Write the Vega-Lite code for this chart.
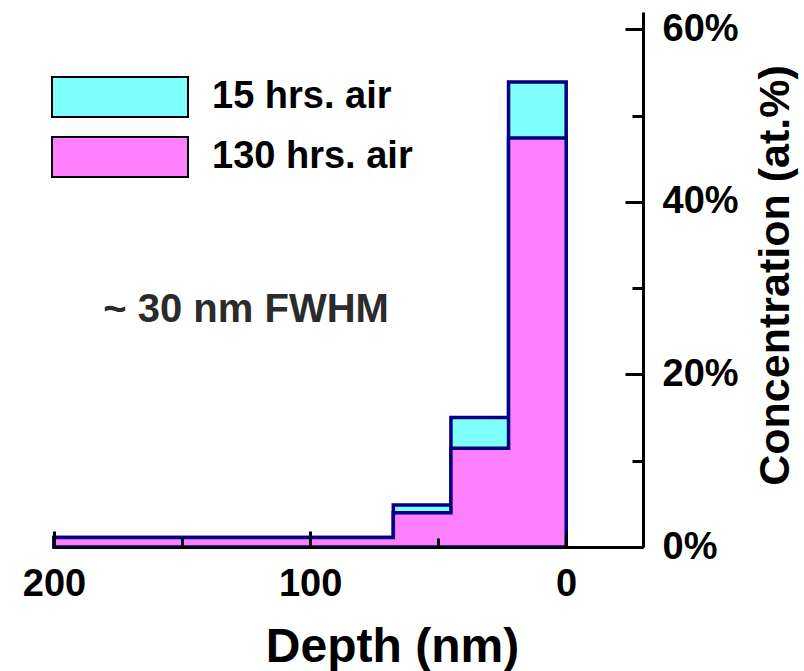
{
  "$schema": "https://vega.github.io/schema/vega-lite/v6.json",
  "width": 589,
  "height": 535,
  "autosize": "none",
  "padding": {"left": 54, "top": 12, "right": 161, "bottom": 124},
  "background": "white",
  "config": {"view": {"stroke": null}},
  "data": {
    "values": [
      {"series": "15 hrs. air", "depth": 0, "conc": 53.9},
      {"series": "15 hrs. air", "depth": 22.5, "conc": 15.0},
      {"series": "15 hrs. air", "depth": 45, "conc": 4.87},
      {"series": "15 hrs. air", "depth": 67.5, "conc": 1.1},
      {"series": "15 hrs. air", "depth": 200, "conc": 1.1},
      {"series": "130 hrs. air", "depth": 0, "conc": 47.4},
      {"series": "130 hrs. air", "depth": 22.5, "conc": 11.45},
      {"series": "130 hrs. air", "depth": 45, "conc": 3.97},
      {"series": "130 hrs. air", "depth": 67.5, "conc": 1.1},
      {"series": "130 hrs. air", "depth": 200, "conc": 1.1}
    ]
  },
  "resolve": {"axis": {"x": "independent", "y": "independent"}},
  "layer": [
    {
      "encoding": {
        "x": {
          "field": "depth",
          "type": "quantitative",
          "scale": {"domain": [-30, 200], "reverse": true, "nice": false, "zero": false},
          "axis": {
            "orient": "bottom",
            "values": [0, 100, 200],
            "format": "d",
            "tickSize": -16,
            "tickWidth": 3,
            "tickColor": "black",
            "domainColor": "black",
            "domainWidth": 3,
            "grid": false,
            "labelFont": "Liberation Sans",
            "labelFontWeight": "bold",
            "labelFontSize": 38,
            "labelColor": "black",
            "labelPadding": 34,
            "labelFlush": false,
            "labelOverlap": false,
            "title": "Depth (nm)",
            "titleFont": "Liberation Sans",
            "titleFontWeight": "bold",
            "titleFontSize": 48,
            "titleColor": "black",
            "titleAlign": "center",
            "titleBaseline": "alphabetic",
            "titleX": 338,
            "titleY": 114,
            "zindex": 1
          }
        },
        "y": {
          "field": "conc",
          "type": "quantitative",
          "scale": {"domain": [0, 62], "nice": false, "zero": false},
          "axis": {
            "orient": "right",
            "values": [0, 20, 40, 60],
            "labelExpr": "datum.value + '%'",
            "tickSize": -18,
            "tickWidth": 3,
            "tickColor": "black",
            "domainColor": "black",
            "domainWidth": 3,
            "grid": false,
            "labelFont": "Liberation Sans",
            "labelFontWeight": "bold",
            "labelFontSize": 38,
            "labelColor": "black",
            "labelAlign": "left",
            "labelBaseline": "middle",
            "labelPadding": 37,
            "labelFlush": false,
            "labelOverlap": false,
            "title": "Concentration (at.%)",
            "titleFont": "Liberation Sans",
            "titleFontWeight": "bold",
            "titleFontSize": 43,
            "titleColor": "black",
            "titleAngle": 270,
            "titleAlign": "center",
            "titleBaseline": "alphabetic",
            "titleX": 145,
            "titleY": 263,
            "zindex": 1
          }
        },
        "fill": {
          "field": "series",
          "type": "nominal",
          "scale": {"domain": ["15 hrs. air", "130 hrs. air"], "range": ["#80FFFF", "#FF80FF"]},
          "legend": {
            "orient": "none",
            "legendX": -3,
            "legendY": 63,
            "title": null,
            "symbolType": "M-1,-0.294H1V0.294H-1Z",
            "symbolSize": 18496,
            "symbolStrokeColor": "black",
            "symbolStrokeWidth": 2,
            "symbolOpacity": 1,
            "clipHeight": 44,
            "labelFont": "Liberation Sans",
            "labelFontWeight": "bold",
            "labelFontSize": 38,
            "labelColor": "black",
            "labelOffset": 23,
            "labelLimit": 0,
            "rowPadding": 16
          }
        }
      },
      "layer": [
        {
          "transform": [{"filter": "datum.series === '15 hrs. air'"}],
          "mark": {"type": "area", "interpolate": "step-before", "stroke": "#000080", "strokeWidth": 3.5, "fillOpacity": 1}
        },
        {
          "transform": [{"filter": "datum.series === '130 hrs. air'"}],
          "mark": {"type": "area", "interpolate": "step-before", "stroke": "#000080", "strokeWidth": 3.5, "fillOpacity": 1}
        }
      ]
    },
    {
      "data": {"values": [{"note": "~ 30 nm FWHM", "depth": 125, "conc": 26.1}]},
      "mark": {"type": "text", "align": "center", "baseline": "alphabetic", "font": "Liberation Sans", "fontWeight": "bold", "fontSize": 40, "color": "#2b2b2b"},
      "encoding": {
        "x": {"field": "depth", "type": "quantitative", "scale": {"domain": [-30, 200], "reverse": true, "nice": false, "zero": false}, "axis": null},
        "y": {"field": "conc", "type": "quantitative", "scale": {"domain": [0, 62], "nice": false, "zero": false}, "axis": null},
        "text": {"field": "note"}
      }
    },
    {
      "mark": {"type": "point", "opacity": 0},
      "encoding": {
        "x": {
          "field": "depth",
          "type": "quantitative",
          "scale": {"domain": [-30, 200], "reverse": true, "nice": false, "zero": false},
          "axis": {"orient": "bottom", "values": [50, 150], "tickSize": -9, "tickWidth": 3, "tickColor": "black", "domain": false, "labels": false, "grid": false, "title": null, "zindex": 1}
        },
        "y": {
          "field": "conc",
          "type": "quantitative",
          "scale": {"domain": [0, 62], "nice": false, "zero": false},
          "axis": {"orient": "right", "values": [10, 30, 50], "tickSize": -11, "tickWidth": 3, "tickColor": "black", "domain": false, "labels": false, "grid": false, "title": null, "zindex": 1}
        }
      }
    }
  ]
}
